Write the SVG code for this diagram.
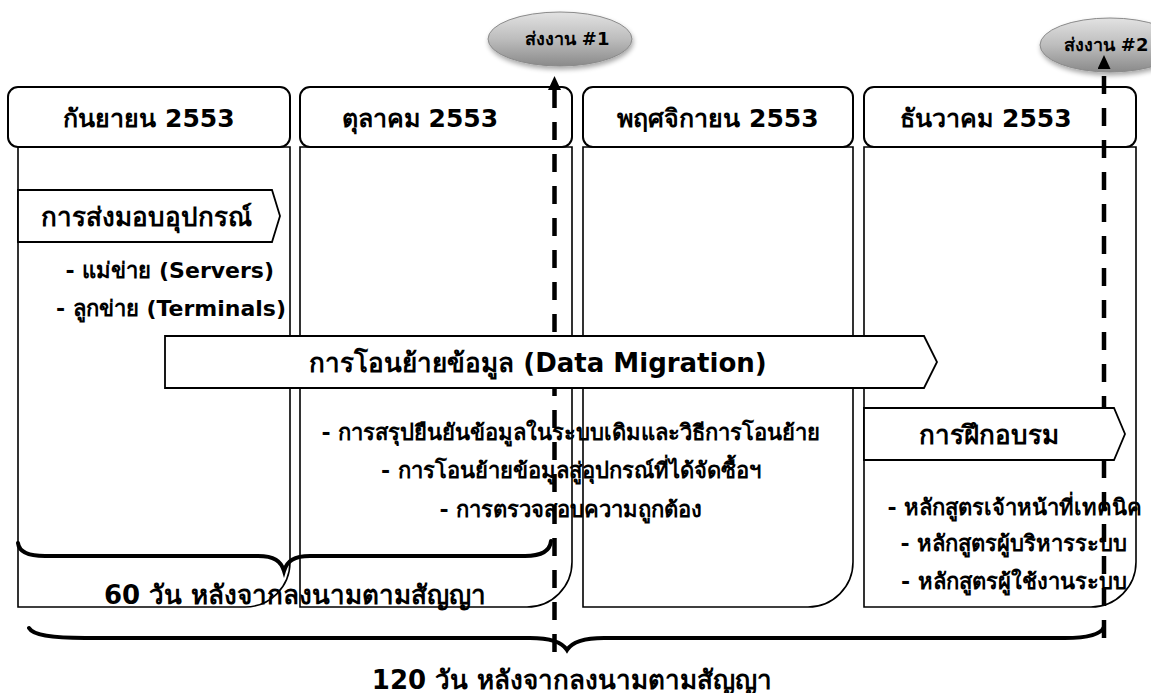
<svg xmlns="http://www.w3.org/2000/svg" width="1151" height="693" viewBox="0 0 1151 693">
<style>
text{font-family:Tahoma,"DejaVu Sans","Noto Sans",sans-serif;font-weight:bold;fill:#000}
.hdr{fill:#fff;stroke:#000;stroke-width:2}
.body{fill:#fff;stroke:#000;stroke-width:1.6}
.pent{fill:#fff;stroke:#000;stroke-width:1.8}
.h{font-size:25px;text-anchor:middle}
.ttl{font-size:26px;text-anchor:middle}
.t{font-size:22px}
.c{text-anchor:middle}
.e{text-anchor:end}
.dash{stroke:#000;stroke-width:4.5;stroke-dasharray:18 14;fill:none}
.brace{fill:none;stroke:#000;stroke-width:4;stroke-linecap:round}
.ell{fill:url(#eg);stroke:#8a8a8a;stroke-width:1;filter:url(#sh)}
.ms{font-size:18px;text-anchor:middle}
</style>
<defs>
<linearGradient id="eg" x1="0" y1="0" x2="0" y2="1">
<stop offset="0" stop-color="#e2e2e2"/>
<stop offset="0.5" stop-color="#bdbdbd"/>
<stop offset="1" stop-color="#8a8a8a"/>
</linearGradient>
<filter id="sh" x="-20%" y="-30%" width="140%" height="170%">
<feGaussianBlur in="SourceAlpha" stdDeviation="2.5"/>
<feOffset dx="1" dy="3" result="b"/>
<feComponentTransfer><feFuncA type="linear" slope="0.35"/></feComponentTransfer>
<feMerge><feMergeNode/><feMergeNode in="SourceGraphic"/></feMerge>
</filter>
<marker id="ah" markerWidth="14" markerHeight="14" refX="0" refY="6.5" orient="auto" markerUnits="userSpaceOnUse">
<path d="M0,0 L14,6.5 L0,13 Z" fill="#000"/>
</marker>
</defs>

<g id="col1">
<path class="body" d="M18,147 H290 V562 A45,45 0 0 1 245,607 H18 Z"/>
<rect class="hdr" x="8" y="87" width="282" height="60" rx="10"/>
<text class="h" x="149" y="127">กันยายน 2553</text>
</g>
<g id="col2">
<path class="body" d="M300,147 H572 V562 A45,45 0 0 1 527,607 H300 Z"/>
<rect class="hdr" x="300" y="87" width="272" height="60" rx="10"/>
<text class="h" x="420" y="127">ตุลาคม 2553</text>
</g>
<g id="col3">
<path class="body" d="M583,147 H853 V562 A45,45 0 0 1 808,607 H583 Z"/>
<rect class="hdr" x="583" y="87" width="270" height="60" rx="10"/>
<text class="h" x="718" y="127">พฤศจิกายน 2553</text>
</g>
<g id="col4">
<path class="body" d="M864,147 H1136 V562 A45,45 0 0 1 1091,607 H864 Z"/>
<rect class="hdr" x="864" y="87" width="272" height="60" rx="10"/>
<text class="h" x="986" y="127">ธันวาคม 2553</text>
</g>

<g id="delivery-items">
<text class="t e" x="274" y="278">- แม่ข่าย (Servers)</text>
<text class="t e" x="286" y="316">- ลูกข่าย (Terminals)</text>
</g>
<g id="migration-items">
<text class="t c" x="571" y="440">- การสรุปยืนยันข้อมูลในระบบเดิมและวิธีการโอนย้าย</text>
<text class="t c" x="571" y="478">- การโอนย้ายข้อมูลสู่อุปกรณ์ที่ได้จัดซื้อฯ</text>
<text class="t c" x="571" y="517">- การตรวจสอบความถูกต้อง</text>
</g>
<g id="training-items">
<text class="t c" x="1015" y="515">- หลักสูตรเจ้าหน้าที่เทคนิค</text>
<text class="t c" x="1014" y="551">- หลักสูตรผู้บริหารระบบ</text>
<text class="t c" x="1014" y="589">- หลักสูตรผู้ใช้งานระบบ</text>
</g>

<g id="milestone1">
<ellipse class="ell" cx="560" cy="39" rx="72" ry="27"/>
<text class="ms" x="567" y="45">ส่งงาน #1</text>
</g>
<g id="milestone2">
<ellipse class="ell" cx="1110" cy="45" rx="70" ry="27"/>
<text class="ms" x="1106" y="51">ส่งงาน #2</text>
</g>

<g id="connectors">
<line class="dash" x1="554.5" y1="652" x2="554.5" y2="90" marker-end="url(#ah)"/>
<line class="dash" x1="1104" y1="638" x2="1104" y2="69" marker-end="url(#ah)"/>
<path class="brace" d="M18,543 C19,552 28,556 45,556 L258,556 C274,556 281,561 284,571 C287,561 294,556 310,556 L525,556 C542,556 550,551 551,541"/>
<path class="brace" d="M29,628 C33,635 50,638 85,638 L530,638 C551,638 562,642 567,650 C572,642 583,638 604,638 L1065,638 C1090,638 1101,634 1104,627"/>
</g>

<g id="delivery">
<path class="pent" d="M18,190 H272 L280,216 L272,242 H18 Z"/>
<text class="ttl" x="146" y="226">การส่งมอบอุปกรณ์</text>
</g>
<g id="migration">
<path class="pent" d="M165,336 H924 L937,362 L924,388 H165 Z"/>
<text class="ttl" x="538" y="372">การโอนย้ายข้อมูล (Data Migration)</text>
</g>
<g id="training">
<path class="pent" d="M864,408 H1114 L1125,434 L1114,460 H864 Z"/>
<text class="ttl" x="989" y="444">การฝึกอบรม</text>
</g>

<g id="labels">
<text x="104" y="604" font-size="26">60 วัน หลังจากลงนามตามสัญญา</text>
<text x="572" y="689" font-size="26" text-anchor="middle">120 วัน หลังจากลงนามตามสัญญา</text>
</g>
</svg>
